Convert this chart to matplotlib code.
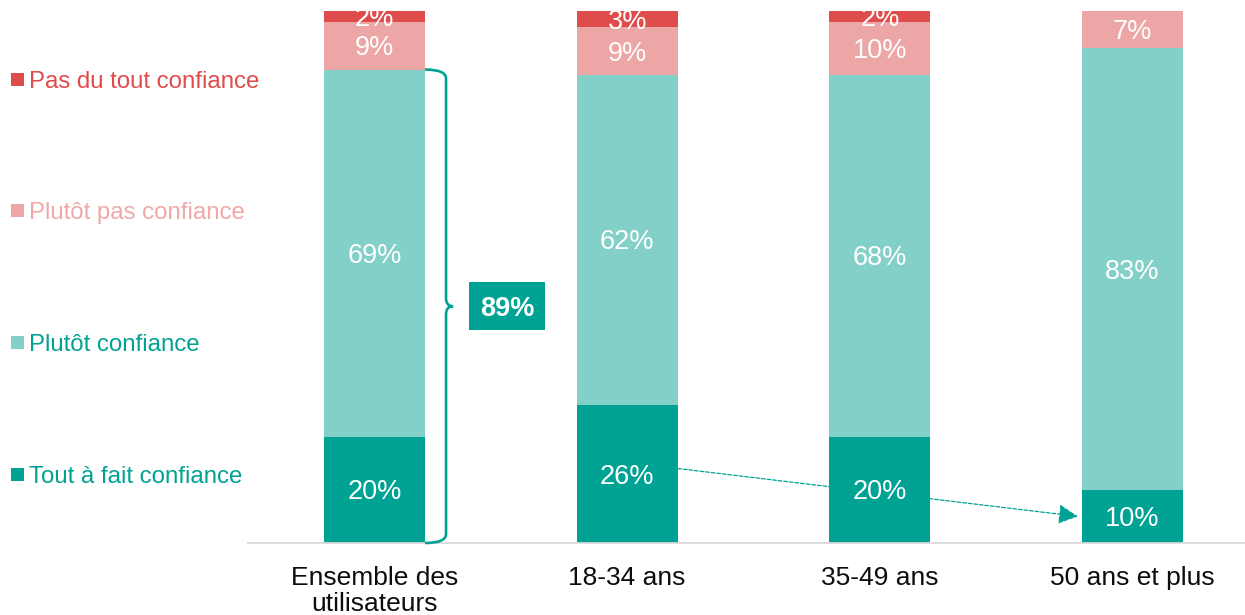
import matplotlib
matplotlib.use("Agg")
import matplotlib.pyplot as plt
import numpy as np
from matplotlib.path import Path
from matplotlib.patches import PathPatch, Rectangle
from matplotlib.transforms import IdentityTransform, offset_copy

plt.rcParams['font.family'] = ['Liberation Sans', 'DejaVu Sans']

categories = ["Ensemble des\nutilisateurs", "18-34 ans", "35-49 ans", "50 ans et plus"]
series_names = ["Tout à fait confiance", "Plutôt confiance", "Plutôt pas confiance", "Pas du tout confiance"]
tout_a_fait = [20, 26, 20, 10]
plutot = [69, 62, 68, 83]
plutot_pas = [9, 9, 10, 7]
pas_du_tout = [2, 3, 2, 0]
total_confiance_label = "89%"

bar_colors = ["#00A393", "#83D0C8", "#EDA6A6", "#DE4C4C"]
legend_text_colors = ["#00A393", "#00A393", "#F0A8A8", "#E04B4B"]

W, H = 1245, 615
fig = plt.figure(figsize=(W / 100, H / 100), dpi=100)
ax = fig.add_axes([248 / W, 72 / H, 997 / W, 543 / H])

x = np.arange(len(categories))
width = 0.4
series = [tout_a_fait, plutot, plutot_pas, pas_du_tout]
vfs = 19.5
lab_tr = offset_copy(ax.transData, fig=fig, x=0, y=-vfs * 0.716 / 2, units='points')
bottom = np.zeros(len(categories))
for vals, col in zip(series, bar_colors):
    vals = np.array(vals, dtype=float)
    ax.bar(x, vals, width=width, bottom=bottom, color=col, zorder=2, linewidth=0)
    for xi, v, b in zip(x, vals, bottom):
        if v > 0:
            ax.text(xi, b + v / 2, f"{int(v)}%", ha='center', va='baseline',
                    color='white', fontsize=vfs, zorder=3, transform=lab_tr)
    bottom += vals

ax.set_xlim(-0.5006, 3.445)
ax.set_ylim(0, 102.07)
for s in ['top', 'right', 'left']:
    ax.spines[s].set_visible(False)
ax.spines['bottom'].set_color('#D9D9D9')
ax.spines['bottom'].set_linewidth(1.3)
ax.set_yticks([])
ax.set_xticks(x)
ax.set_xticklabels(categories, fontsize=19, color='#0d0d0d', linespacing=1.13)
ax.tick_params(axis='x', length=0, pad=16.5)

# dashed arrow from 18-34 to 50+ (behind bars)
ax.annotate('', xy=(3 - width / 2 - 0.016, tout_a_fait[3] / 2),
            xytext=(1 + width / 2, tout_a_fait[1] / 2 + 1),
            arrowprops=dict(arrowstyle='-|>', color='#00A393', lw=0.9,
                            linestyle=(0, (3, 1.5)), mutation_scale=30,
                            shrinkA=0, shrinkB=0),
            zorder=1)

# brace for first bar
top_val = tout_a_fait[0] + plutot[0]
x0, ytop = ax.transData.transform((0 + width / 2, top_val))
_, ybot = ax.transData.transform((0, 0))
xv = x0 + 21
xtip = xv + 7
r = 9
r2 = 8
ymid = (ytop + ybot) / 2
verts = [(x0, ytop), (xv, ytop), (xv, ytop - r),
         (xv, ymid + r2),
         (xv, ymid), (xtip, ymid),
         (xv, ymid), (xv, ymid - r2),
         (xv, ybot + r),
         (xv, ybot), (x0, ybot)]
codes = [Path.MOVETO, Path.CURVE3, Path.CURVE3,
         Path.LINETO,
         Path.CURVE3, Path.CURVE3,
         Path.CURVE3, Path.CURVE3,
         Path.LINETO,
         Path.CURVE3, Path.CURVE3]
brace = PathPatch(Path(verts, codes), transform=IdentityTransform(),
                  facecolor='none', edgecolor='#00A393', linewidth=1.9,
                  clip_on=False, zorder=4)
fig.add_artist(brace)

bw, bh = 76, 48
bx = xtip + 16
rect = Rectangle((bx, ymid - bh / 2), bw, bh, transform=IdentityTransform(),
                 facecolor='#00A393', edgecolor='none', clip_on=False, zorder=4)
fig.add_artist(rect)
bfs = 19.5
fig.text((bx + bw / 2) / W, (ymid - bfs * 100 / 72 * 0.716 / 2) / H, total_confiance_label,
         ha='center', va='baseline', color='white', fontsize=bfs, fontweight='bold', zorder=5)

# legend on left (top to bottom: reversed series order)
leg_y = [79, 210, 342, 474]
fs = 17.3
cap = fs * 100 / 72 * 0.716
for name, col, tcol, yc in zip(series_names[::-1], bar_colors[::-1],
                               legend_text_colors[::-1], leg_y):
    fig.add_artist(Rectangle((11 / W, 1 - (yc + 6.5) / H), 13 / W, 13 / H,
                             transform=fig.transFigure, facecolor=col,
                             edgecolor='none'))
    fig.text(29 / W, 1 - (yc + cap / 2) / H, name, ha='left', va='baseline',
             color=tcol, fontsize=fs)

fig.savefig("out.png", dpi=100)
